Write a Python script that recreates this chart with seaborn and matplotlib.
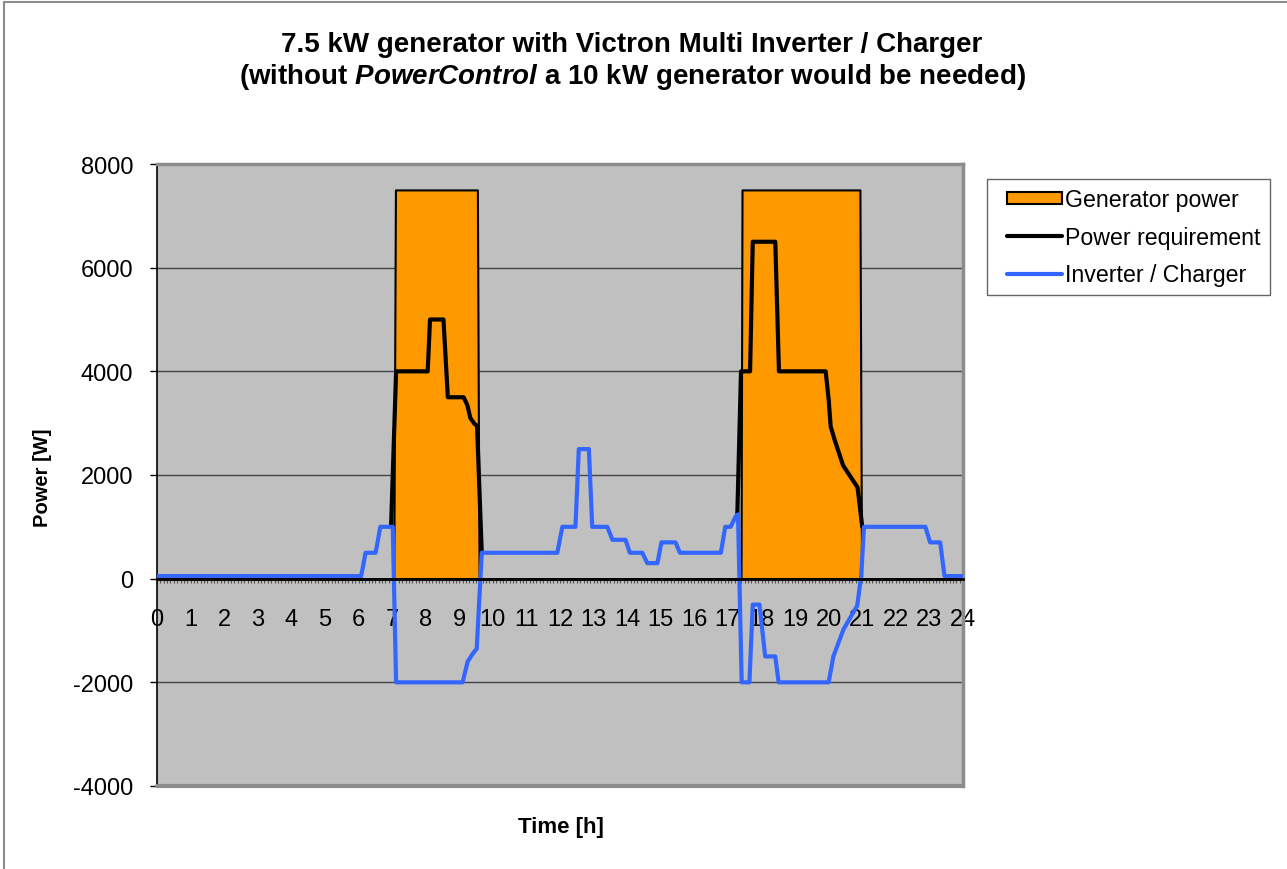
import numpy as np
import pandas as pd
import matplotlib.pyplot as plt
import seaborn as sns
from matplotlib.patches import Rectangle, Patch
from matplotlib.lines import Line2D
from matplotlib.legend_handler import HandlerPatch, HandlerLine2D

# generator output [W] over the day [h]
gen_hours = [0, 7.05, 7.1, 9.54, 9.59, 17.39, 17.42, 20.93, 20.98, 24]
gen_power = [0, 0, 7500, 7500, 0, 0, 7500, 7500, 0, 0]

# power requirement while generator runs (rest of day = inverter line)
req1_hours = [6.97, 7.12, 8.06, 8.13, 8.53, 8.66, 9.13, 9.24, 9.33, 9.45, 9.53, 9.67]
req1_power = [1000, 4000, 4000, 5000, 5000, 3500, 3500, 3350, 3100, 2990, 2950, 500]
req2_hours = [17.28, 17.39, 17.66, 17.74, 18.41, 18.52, 19.91, 20.0, 20.06, 20.18, 20.43, 20.86, 21.0]
req2_power = [1240, 4000, 4000, 6500, 6500, 4000, 4000, 3457, 2934, 2674, 2184, 1761, 1000]

# inverter / charger
inv_hours = [0, 6.08, 6.21, 6.51, 6.65, 7.02, 7.12, 9.1, 9.25, 9.4, 9.52, 9.67,
             11.92, 12.07, 12.46, 12.56, 12.86, 12.96, 13.41, 13.56, 13.95, 14.08,
             14.45, 14.6, 14.9, 15.02, 15.44, 15.57, 16.79, 16.92, 17.08, 17.23,
             17.3, 17.41, 17.64, 17.74, 17.94, 18.11, 18.41, 18.51, 20.0, 20.14,
             20.44, 20.85, 20.97, 21.05, 22.88, 23.02, 23.32, 23.45, 24]
inv_power = [50, 50, 500, 500, 1000, 1000, -2000, -2000, -1600, -1450, -1350, 500,
             500, 1000, 1000, 2500, 2500, 1000, 1000, 750, 750, 500,
             500, 300, 300, 700, 700, 500, 500, 1000, 1000, 1200,
             1240, -2000, -2000, -500, -500, -1500, -1500, -2000, -2000, -1500,
             -980, -520, 60, 1000, 1000, 700, 700, 50, 50]

hour_ticks = list(range(0, 25))
power_ticks = [-4000, -2000, 0, 2000, 4000, 6000, 8000]

ORANGE = '#FF9900'
BLUE = '#3366FF'

sns.set_style('white')
plt.rcParams['font.family'] = ['Liberation Sans', 'DejaVu Sans']
plt.rcParams['axes.unicode_minus'] = False
plt.rcParams['mathtext.fontset'] = 'custom'
plt.rcParams['mathtext.it'] = 'Liberation Sans:italic:bold'
plt.rcParams['mathtext.rm'] = 'Liberation Sans:bold'
for k in ['text.color', 'xtick.color', 'ytick.color', 'axes.labelcolor']:
    plt.rcParams[k] = 'black'

W, H = 1287, 870
fig = plt.figure(figsize=(W / 100, H / 100), dpi=100)
ax = fig.add_axes([157 / W, 1 - 787 / H, (963 - 157) / W, (787 - 165) / H])
ax.set_facecolor('#C0C0C0')

ax.fill_between(gen_hours, gen_power, 0, facecolor=ORANGE, edgecolor='black',
                linewidth=1.5, zorder=2)

req = pd.DataFrame({'h': req1_hours + req2_hours,
                    'p': req1_power + req2_power,
                    'seg': [1] * len(req1_hours) + [2] * len(req2_hours)})
sns.lineplot(data=req, x='h', y='p', units='seg', estimator=None, sort=False,
             color='black', linewidth=3, ax=ax, zorder=3)
sns.lineplot(x=inv_hours, y=inv_power, estimator=None, sort=False,
             color=BLUE, linewidth=3, ax=ax, zorder=4)

ax.set_xlim(0, 24)
ax.set_ylim(-4000, 8000)
ax.set_xticks(hour_ticks)
ax.set_xticks(np.arange(0, 24.01, 0.1), minor=True)
ax.set_yticks(power_ticks)
ax.set_xlabel('')
ax.set_ylabel('')

ax.yaxis.grid(True, color='#444444', linewidth=1)
ax.xaxis.grid(False)
ax.set_axisbelow(True)

ax.spines['bottom'].set_position(('data', 0))
ax.spines['bottom'].set_color('black')
ax.spines['bottom'].set_linewidth(2)
ax.spines['bottom'].set_zorder(5)
ax.spines['left'].set_color('black')
ax.spines['left'].set_linewidth(1.2)
for s in ['top', 'right']:
    ax.spines[s].set_color('#8c8c8c')
    ax.spines[s].set_linewidth(2.5)
ax.axhline(-4000, color='#8c8c8c', linewidth=3, clip_on=False, zorder=5)

ax.tick_params(axis='x', which='both', direction='out', length=3, width=0.8,
               color='#505050', bottom=True, pad=18, labelsize=17)
ax.tick_params(axis='y', which='major', direction='out', length=5, width=1,
               color='black', left=True, pad=12, labelsize=17)

fig.text(632 / W, 1 - 45 / H, '7.5 kW generator with Victron Multi Inverter / Charger',
         ha='center', va='center', fontsize=20, fontweight='bold')
fig.text(632 / W, 1 - 77 / H,
         r'(without $\mathit{PowerControl}$ a 10 kW generator would be needed)',
         ha='center', va='center', fontsize=20, fontweight='bold')
fig.text(43 / W, 1 - 478 / H, 'Power [W]', rotation=90, ha='center', va='center',
         fontsize=14.5, fontweight='bold')
fig.text(561 / W, 1 - 828 / H, 'Time [h]', ha='center', va='center',
         fontsize=16, fontweight='bold')

handles = [Patch(facecolor=ORANGE, edgecolor='black', linewidth=1.5),
           Line2D([], [], color='black', linewidth=3),
           Line2D([], [], color=BLUE, linewidth=3)]
labels = ['Generator power', 'Power requirement', 'Inverter / Charger']
leg = fig.legend(handles, labels, loc='upper left',
                 bbox_to_anchor=(987 / W, 1 - 180 / H), bbox_transform=fig.transFigure,
                 frameon=True, fancybox=False, edgecolor='#404040', fontsize=16.7,
                 handlelength=2.82, handleheight=0.48, handletextpad=0.15,
                 labelspacing=0.62, borderpad=0.4, borderaxespad=0,
                 handler_map={Patch: HandlerPatch(xpad=0.45),
                              Line2D: HandlerLine2D(xpad=0.45)})
leg.get_frame().set_linewidth(1)

fig.add_artist(Rectangle((4 / W, -0.1), 1.2, 1.1 - 3 / H, transform=fig.transFigure,
                         fill=False, edgecolor='#8c8c8c', linewidth=1.5))

fig.savefig('out.png', dpi=100)
